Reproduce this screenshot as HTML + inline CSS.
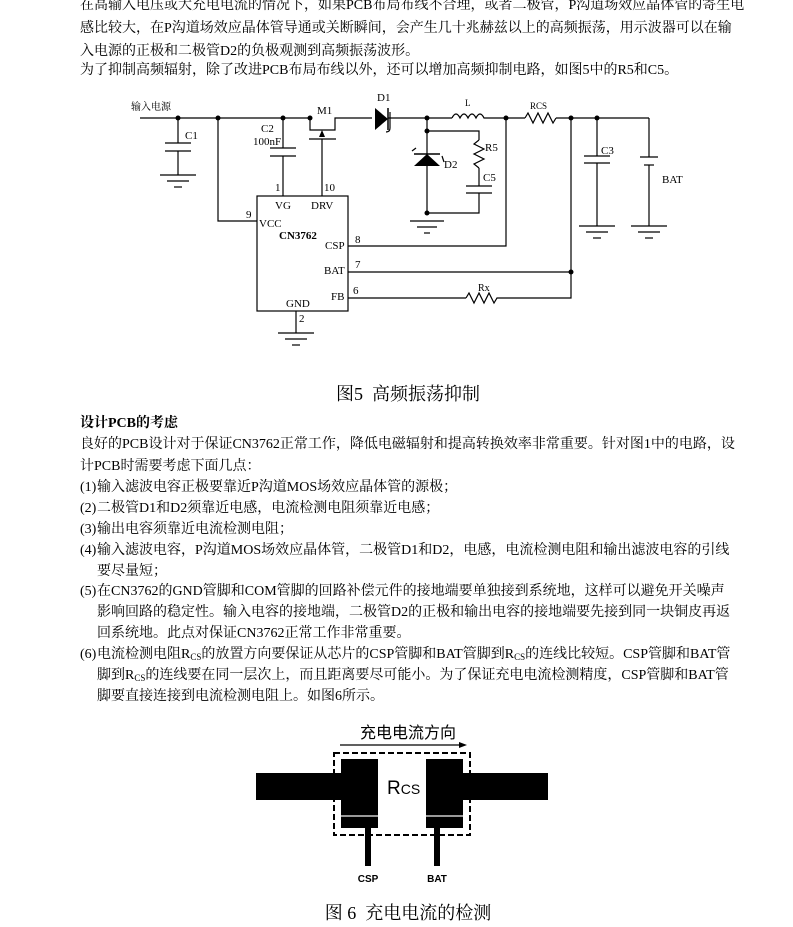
<!DOCTYPE html>
<html><head><meta charset="utf-8"><style>
body{margin:0;background:#fff;width:793px;height:927px;position:relative;overflow:hidden;font-family:"Liberation Serif","Noto Serif CJK SC",serif;color:#000}
.l{position:absolute;left:80px;font-size:14px;line-height:20px;white-space:nowrap}
.i{left:97px}
.n{position:absolute;left:80px;font-size:14px;line-height:20px}
svg{position:absolute;left:0;top:0}
sub{font-size:9px;vertical-align:-2px;line-height:0}
</style></head><body>
<div class="l" style="top:-4px">在高输入电压或大充电电流的情况下，如果PCB布局布线不合理，或者二极管，P沟道场效应晶体管的寄生电</div>
<div class="l" style="top:19px">感比较大，在P沟道场效应晶体管导通或关断瞬间，会产生几十兆赫兹以上的高频振荡，用示波器可以在输</div>
<div class="l" style="top:42px">入电源的正极和二极管D2的负极观测到高频振荡波形。</div>
<div class="l" style="top:61px">为了抑制高频辐射，除了改进PCB布局布线以外，还可以增加高频抑制电路，如图5中的R5和C5。</div>

<svg width="793" height="927" viewBox="0 0 793 927" font-family="Liberation Serif, Noto Serif CJK SC, serif" font-size="11">
<g stroke="#000" stroke-width="1.2" fill="none">
<line x1="140" y1="118" x2="310" y2="118"/>
<polyline points="310,118 310,130 335,130 335,118 372,118"/>
<line x1="388" y1="118" x2="452" y2="118"/>
<path d="M452,118 q4,-8 8,0 q4,-8 8,0 q4,-8 8,0 q4,-8 8,0 l6,0"/>
<line x1="490" y1="118" x2="525" y2="118"/>
<polyline points="525,118 528,113 533,123 538,113 543,123 548,113 553,123 556,118"/>
<line x1="556" y1="118" x2="649" y2="118"/>
<line x1="178" y1="118" x2="178" y2="143"/><line x1="165" y1="143" x2="191" y2="143"/><line x1="165" y1="151" x2="191" y2="151"/><line x1="178" y1="151" x2="178" y2="175"/>
<line x1="160" y1="175" x2="196" y2="175"/><line x1="167" y1="181" x2="189" y2="181"/><line x1="174" y1="187" x2="182" y2="187"/>
<polyline points="218,118 218,221 257,221"/>
<line x1="283" y1="118" x2="283" y2="148"/><line x1="270" y1="148" x2="296" y2="148"/><line x1="270" y1="156" x2="296" y2="156"/><line x1="283" y1="156" x2="283" y2="196"/>
<line x1="309" y1="139" x2="336" y2="139"/>
<line x1="322" y1="139" x2="322" y2="196"/>
<rect x="257" y="196" width="91" height="115"/>
<line x1="296" y1="311" x2="296" y2="333"/>
<line x1="278" y1="333" x2="314" y2="333"/><line x1="285" y1="339" x2="307" y2="339"/><line x1="292" y1="345" x2="300" y2="345"/>
<polyline points="348,246 506,246 506,118"/>
<line x1="348" y1="272" x2="571" y2="272"/>
<line x1="348" y1="298" x2="466" y2="298"/>
<polyline points="466,298 469,293 474,303 479,293 484,303 489,293 494,303 497,298 571,298 571,118"/>
<line x1="427" y1="118" x2="427" y2="213"/>
<polyline points="427,131 479,131 479,140"/>
<polyline points="479,140 474,144 484,149 474,154 484,159 474,164 479,168"/>
<line x1="479" y1="168" x2="479" y2="186"/><line x1="466" y1="186" x2="492" y2="186"/><line x1="466" y1="193" x2="492" y2="193"/>
<polyline points="479,193 479,213 427,213"/>
<line x1="410" y1="221" x2="444" y2="221"/><line x1="417" y1="227" x2="437" y2="227"/><line x1="424" y1="233" x2="430" y2="233"/>
<line x1="597" y1="118" x2="597" y2="156"/><line x1="584" y1="156" x2="610" y2="156"/><line x1="584" y1="163" x2="610" y2="163"/><line x1="597" y1="163" x2="597" y2="226"/>
<line x1="579" y1="226" x2="615" y2="226"/><line x1="586" y1="232" x2="608" y2="232"/><line x1="593" y1="238" x2="601" y2="238"/>
<polyline points="649,118 649,157"/><line x1="640" y1="157" x2="658" y2="157"/><line x1="644" y1="165" x2="654" y2="165"/><line x1="649" y1="165" x2="649" y2="226"/>
<line x1="631" y1="226" x2="667" y2="226"/><line x1="638" y1="232" x2="660" y2="232"/><line x1="645" y1="238" x2="653" y2="238"/>
<path d="M412,151 l4,-3"/><path d="M442,156 l2,6"/>
<path d="M386,132 q4,0 4,-4 l0,-16"/>
</g>
<polygon points="375,108 375,130 388,119" fill="#000"/><line x1="388" y1="108" x2="388" y2="130" stroke="#000" stroke-width="1.5"/>
<polygon points="414,166 440,166 427,154" fill="#000"/><line x1="414" y1="154" x2="440" y2="154" stroke="#000" stroke-width="1.5"/>
<polygon points="322,130 319,137 325,137" fill="#000"/>
<g fill="#000">
<circle cx="178" cy="118" r="2.5"/><circle cx="218" cy="118" r="2.5"/><circle cx="283" cy="118" r="2.5"/><circle cx="310" cy="118" r="2.5"/>
<circle cx="427" cy="118" r="2.5"/><circle cx="427" cy="131" r="2.5"/><circle cx="427" cy="213" r="2.5"/><circle cx="506" cy="118" r="2.5"/>
<circle cx="571" cy="118" r="2.5"/><circle cx="597" cy="118" r="2.5"/><circle cx="571" cy="272" r="2.5"/>
</g>
<g font-size="11">
<text x="131" y="110" font-size="10">输入电源</text>
<text x="185" y="139">C1</text>
<text x="261" y="132">C2</text><text x="253" y="145">100nF</text>
<text x="317" y="114">M1</text><text x="377" y="101">D1</text>
<text x="465" y="106" font-size="9">L</text><text x="530" y="109" font-size="9">RCS</text>
<text x="485" y="151">R5</text><text x="444" y="168">D2</text><text x="483" y="181">C5</text>
<text x="601" y="154">C3</text><text x="662" y="183">BAT</text>
<text x="275" y="191">1</text><text x="324" y="191">10</text>
<text x="275" y="209">VG</text><text x="311" y="209">DRV</text>
<text x="246" y="218">9</text><text x="259" y="227">VCC</text>
<text x="279" y="239" font-weight="bold">CN3762</text>
<text x="325" y="249">CSP</text><text x="355" y="243">8</text>
<text x="324" y="274">BAT</text><text x="355" y="268">7</text>
<text x="331" y="300">FB</text><text x="353" y="294">6</text>
<text x="286" y="307">GND</text><text x="299" y="322">2</text>
<text x="478" y="291" font-size="10">Rx</text>
</g>
<text x="408" y="400" font-size="18" text-anchor="middle">图5&#160;&#160;高频振荡抑制</text>

<text x="408" y="738" font-size="16" text-anchor="middle" font-family="Liberation Sans, Noto Sans CJK SC, sans-serif">充电电流方向</text>
<line x1="340" y1="745" x2="462" y2="745" stroke="#000" stroke-width="1.2"/>
<polygon points="467,745 459,742 459,748" fill="#000"/>
<rect x="256" y="773" width="90" height="27" fill="#000"/>
<rect x="460" y="773" width="88" height="27" fill="#000"/>
<rect x="341" y="759" width="37" height="69" fill="#000"/>
<rect x="426" y="759" width="37" height="69" fill="#000"/>
<line x1="341" y1="816" x2="378" y2="816" stroke="#ccc" stroke-width="1.5"/>
<line x1="426" y1="816" x2="463" y2="816" stroke="#ccc" stroke-width="1.5"/>
<rect x="334" y="753" width="136" height="82" fill="none" stroke="#000" stroke-width="2" stroke-dasharray="6,3"/>
<rect x="365" y="828" width="6" height="38" fill="#000"/>
<rect x="434" y="828" width="6" height="38" fill="#000"/>
<text x="387" y="794" font-size="19" font-family="Liberation Sans, sans-serif">R<tspan font-size="14">CS</tspan></text>
<text x="368" y="882" font-size="10" font-weight="bold" text-anchor="middle" font-family="Liberation Sans, sans-serif">CSP</text>
<text x="437" y="882" font-size="10" font-weight="bold" text-anchor="middle" font-family="Liberation Sans, sans-serif">BAT</text>
<text x="408" y="919" font-size="18" text-anchor="middle">图&#160;6&#160;&#160;充电电流的检测</text>
</svg>

<div class="l" style="top:414px;font-weight:bold">设计PCB的考虑</div>
<div class="l" style="top:435px">良好的PCB设计对于保证CN3762正常工作，降低电磁辐射和提高转换效率非常重要。针对图1中的电路，设</div>
<div class="l" style="top:457px">计PCB时需要考虑下面几点：</div>
<div class="n" style="top:478px">(1)</div><div class="l i" style="top:478px">输入滤波电容正极要靠近P沟道MOS场效应晶体管的源极；</div>
<div class="n" style="top:499px">(2)</div><div class="l i" style="top:499px">二极管D1和D2须靠近电感，电流检测电阻须靠近电感；</div>
<div class="n" style="top:520px">(3)</div><div class="l i" style="top:520px">输出电容须靠近电流检测电阻；</div>
<div class="n" style="top:541px">(4)</div><div class="l i" style="top:541px">输入滤波电容，P沟道MOS场效应晶体管，二极管D1和D2，电感，电流检测电阻和输出滤波电容的引线</div>
<div class="l i" style="top:562px">要尽量短；</div>
<div class="n" style="top:582px">(5)</div><div class="l i" style="top:582px">在CN3762的GND管脚和COM管脚的回路补偿元件的接地端要单独接到系统地，这样可以避免开关噪声</div>
<div class="l i" style="top:603px">影响回路的稳定性。输入电容的接地端，二极管D2的正极和输出电容的接地端要先接到同一块铜皮再返</div>
<div class="l i" style="top:624px">回系统地。此点对保证CN3762正常工作非常重要。</div>
<div class="n" style="top:645px">(6)</div><div class="l i" style="top:645px">电流检测电阻R<sub>CS</sub>的放置方向要保证从芯片的CSP管脚和BAT管脚到R<sub>CS</sub>的连线比较短。CSP管脚和BAT管</div>
<div class="l i" style="top:666px">脚到R<sub>CS</sub>的连线要在同一层次上，而且距离要尽可能小。为了保证充电电流检测精度，CSP管脚和BAT管</div>
<div class="l i" style="top:687px">脚要直接连接到电流检测电阻上。如图6所示。</div>
</body></html>
